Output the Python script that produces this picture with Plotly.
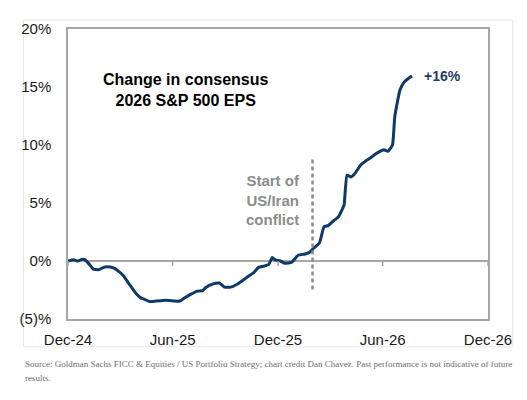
import plotly.graph_objects as go

# ---- data ----
dates = [
    "2024-12-01", "2024-12-11", "2024-12-17", "2024-12-26", "2024-12-31",
    "2025-01-09", "2025-01-14", "2025-01-23", "2025-02-01", "2025-02-06",
    "2025-02-18", "2025-02-26", "2025-03-07", "2025-03-19", "2025-03-30",
    "2025-04-07", "2025-04-13", "2025-04-22", "2025-05-03", "2025-05-15",
    "2025-05-26", "2025-06-04", "2025-06-13", "2025-06-21", "2025-07-03",
    "2025-07-14", "2025-07-23", "2025-07-28", "2025-08-09", "2025-08-21",
    "2025-08-30", "2025-09-10", "2025-09-21", "2025-09-30", "2025-10-11",
    "2025-10-20", "2025-10-28", "2025-11-06", "2025-11-15", "2025-11-21",
    "2025-11-26", "2025-12-05", "2025-12-13", "2025-12-25", "2026-01-05",
    "2026-01-17", "2026-01-25", "2026-02-01", "2026-02-11", "2026-02-19",
    "2026-02-26", "2026-03-07", "2026-03-16", "2026-03-24", "2026-03-26",
    "2026-03-31", "2026-04-07", "2026-04-13", "2026-04-24", "2026-05-03",
    "2026-05-11", "2026-05-20", "2026-05-29", "2026-06-03", "2026-06-10",
    "2026-06-18", "2026-06-22", "2026-07-01", "2026-07-08", "2026-07-16",
    "2026-07-22",
]
eps_change = [
    0.0, 0.1, 0.0, 0.15, 0.1,
    -0.4, -0.7, -0.75, -0.55, -0.5,
    -0.6, -0.85, -1.25, -2.1, -2.85,
    -3.2, -3.3, -3.5, -3.45, -3.4,
    -3.4, -3.45, -3.45, -3.2, -2.85,
    -2.6, -2.55, -2.3, -2.0, -1.9,
    -2.25, -2.25, -2.0, -1.7, -1.3,
    -1.0, -0.55, -0.45, -0.3, 0.3,
    0.1, 0.0, -0.2, -0.1, 0.5,
    0.6, 0.75, 1.1, 1.55, 2.95,
    3.05, 3.45, 3.8, 4.6, 4.85,
    7.4, 7.25, 7.5, 8.3, 8.65,
    8.9, 9.25, 9.5, 9.6, 9.45,
    10.0, 12.45, 14.75, 15.4, 15.75,
    15.95,
]
x_tick_vals = ["2024-12-01", "2025-06-01", "2025-12-01", "2026-06-01", "2026-12-01"]
x_tick_text = ["Dec-24", "Jun-25", "Dec-25", "Jun-26", "Dec-26"]
y_tick_vals = [-5, 0, 5, 10, 15, 20]
y_tick_text = ["(5)%", "0%", "5%", "10%", "15%", "20%"]
conflict_date = "2026-01-30"
conflict_span = [-2.45, 8.9]
end_label = "+16%"

LINE = "#0d3a66"
AXIS = "#a6a6a6"
FONT = "Liberation Sans, Arial, sans-serif"

fig = go.Figure()
fig.add_trace(go.Scatter(
    x=dates, y=eps_change, mode="lines",
    line=dict(color=LINE, width=3, shape="spline", smoothing=0.4),
    hoverinfo="skip", showlegend=False,
))

shapes = []
# ticks on the zero line
for tv in x_tick_vals:
    shapes.append(dict(type="line", xref="x", yref="y", x0=tv, x1=tv,
                       ysizemode="pixel", yanchor=0, y0=0, y1=-5,
                       line=dict(color=AXIS, width=1.5)))
# conflict dashed line
shapes.append(dict(type="line", xref="x", yref="y", x0=conflict_date, x1=conflict_date,
                   y0=conflict_span[0], y1=conflict_span[1],
                   line=dict(color="#8c8c8c", width=2.5, dash="4px,3px")))
# outer frame
shapes.append(dict(type="rect", xref="paper", yref="paper",
                   x0=-0.1061, x1=1.059, y0=-0.0959, y1=1.0308,
                   line=dict(color="#e6e6e6", width=1), layer="below"))

annotations = [
    dict(text="<b>Change in consensus<br>2026 S&P 500 EPS</b>", xref="paper", yref="paper",
         x=0.2807, y=0.790, xanchor="center", yanchor="middle", showarrow=False,
         font=dict(family=FONT, size=16, color="#000000")),
    dict(text="<b>" + end_label + "</b>", xref="paper", yref="paper",
         x=0.8436, y=0.838, xanchor="left", yanchor="middle", showarrow=False,
         font=dict(family=FONT, size=14, color="#1f3d66")),
    dict(text="<b>Start of<br>US/Iran<br>conflict</b>", xref="paper", yref="paper",
         x=0.488, y=0.41, xanchor="center", yanchor="middle", showarrow=False,
         font=dict(family=FONT, size=15, color="#8c8c8c")),
    dict(text="Source: Goldman Sachs FICC & Equities / US Portfolio Strategy; chart credit Dan Chavez. Past performance is not indicative of future",
         xref="paper", yref="paper", x=-0.108, y=-0.155, xanchor="left", yanchor="middle",
         showarrow=False, font=dict(family="Liberation Serif, Times New Roman, serif", size=9, color="#6e6e6e")),
    dict(text="results.",
         xref="paper", yref="paper", x=-0.108, y=-0.203, xanchor="left", yanchor="middle",
         showarrow=False, font=dict(family="Liberation Serif, Times New Roman, serif", size=9, color="#6e6e6e")),
]

# page body adds an 8px offset; the figure is sized/margined to compensate
fig.update_layout(
    width=519, height=392,
    margin=dict(l=56, r=39, t=19, b=81),
    paper_bgcolor="white", plot_bgcolor="white",
    font=dict(family=FONT, size=15, color="#1a1a1a"),
    shapes=shapes, annotations=annotations,
    xaxis=dict(type="date", range=["2024-12-01", "2026-12-01"],
               tickvals=x_tick_vals, ticktext=x_tick_text,
               showgrid=False, zeroline=False, ticks="",
               showline=True, mirror=True, linecolor=AXIS, linewidth=1.5,
               ticklabelstandoff=6, tickfont=dict(size=15, color="#1a1a1a")),
    yaxis=dict(range=[-5, 20], tickvals=y_tick_vals, ticktext=y_tick_text,
               showgrid=False, zeroline=True, zerolinecolor=AXIS, zerolinewidth=1.5,
               ticks="", showline=True, mirror=True, linecolor=AXIS, linewidth=1.5,
               ticklabelstandoff=12, tickfont=dict(size=15, color="#1a1a1a")),
)

fig.write_html("out.html")
